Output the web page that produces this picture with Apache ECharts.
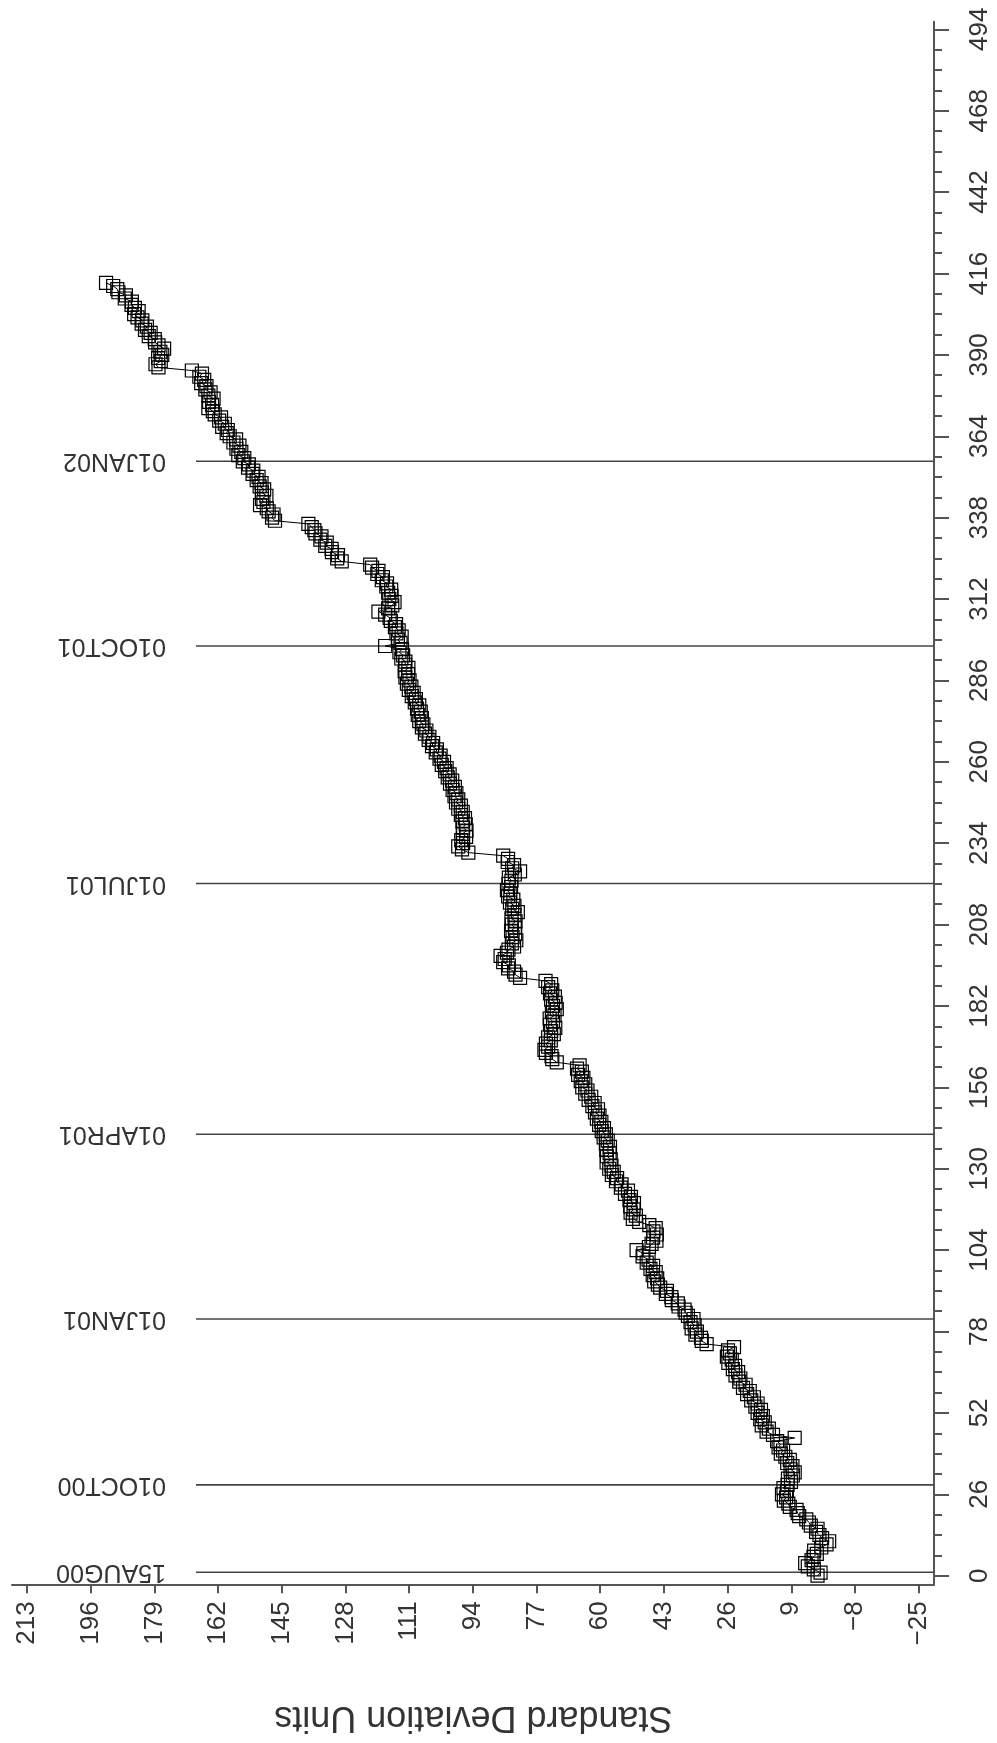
<!DOCTYPE html>
<html>
<head>
<meta charset="utf-8">
<script src="https://cdn.jsdelivr.net/npm/echarts@6/dist/echarts.min.js"></script>
<style>
html,body{margin:0;padding:0;background:#fff;}
#chart{width:997px;height:1743px;}
</style>
</head>
<body>
<div id="chart"></div>
<script>
// Standard deviation units, one value per observation (observation number = position, 0..413)
const sdUnits = [
  2.0,1.2,3.0,4.6,5.3,3.6,3.1,2.2,2.9,1.0,-0.4,-1.1,0.8,1.5,
  2.4,2.0,3.8,4.3,5.0,6.9,7.3,7.6,9.4,9.8,11.0,10.4,11.5,10.2,11.1,10.0,
  9.1,9.9,8.6,8.1,9.2,8.7,10.1,9.4,10.6,11.8,11.2,12.4,11.9,12.8,8.1,13.9,
  15.6,15.0,16.9,16.1,17.3,16.6,18.0,17.1,18.6,18.0,19.7,19.0,20.8,20.1,
  21.9,21.2,22.9,22.6,23.9,23.2,24.6,24.0,25.8,24.9,26.2,25.4,25.9,24.3,
  31.6,32.9,33.1,34.6,34.2,35.6,34.8,35.9,35.1,36.6,37.2,37.5,39.1,39.3,
  40.9,41.0,42.5,42.2,44.0,44.6,45.6,44.8,46.0,45.2,46.6,45.9,47.6,47.1,
  48.7,48.5,50.3,47.0,46.3,45.0,45.9,44.9,45.8,45.2,46.9,49.6,51.3,50.5,
  51.9,51.1,52.0,51.0,52.2,51.8,53.4,52.6,54.5,54.3,55.8,55.5,56.9,56.4,
  57.6,57.0,58.3,57.2,58.2,57.5,58.4,57.4,58.5,58.0,59.1,58.5,59.6,59.0,
  60.3,59.7,60.9,60.2,61.4,60.6,62.1,61.5,63.1,62.4,64.0,63.4,64.8,64.0,
  65.2,64.5,65.9,64.9,66.2,65.5,
  71.6,72.8,73.0,74.5,74.9,73.9,74.5,73.2,73.9,72.4,73.1,72.0,73.4,72.6,
  73.5,72.2,72.9,71.6,72.6,71.9,73.1,72.1,73.4,72.8,73.9,73.1,74.6,
  81.4,82.6,83.0,84.6,84.4,85.9,85.5,86.6,84.9,84.5,83.0,83.6,82.4,83.4,
  82.7,83.8,82.8,83.6,82.6,83.7,82.9,82.0,83.5,82.9,84.1,83.2,84.6,84.0,
  84.9,83.8,84.5,83.7,84.4,82.8,81.4,83.5,83.0,84.7,84.6,85.9,
  95.2,96.9,97.9,96.6,97.1,95.8,96.7,95.7,96.6,95.9,96.8,96.1,97.2,96.7,
  97.9,97.2,98.5,97.9,98.9,98.4,99.4,98.8,100.1,99.5,100.7,100.2,101.4,101.0,
  102.3,101.7,102.9,102.6,103.9,103.6,104.9,104.6,105.8,105.6,106.8,106.4,107.6,107.2,
  108.3,107.6,108.7,107.9,108.9,108.3,109.5,109.2,110.3,109.8,111.1,110.4,111.6,110.9,
  112.0,111.3,112.2,111.2,112.1,112.0,113.1,112.6,113.6,112.9,117.4,113.3,114.0,113.0,
  114.4,113.8,114.8,114.5,115.9,116.2,117.4,119.2,116.6,115.5,114.9,116.3,115.7,
  116.6,115.8,117.1,116.9,118.3,118.0,119.5,119.2,120.9,121.4,
  129.0,130.2,130.0,131.6,131.7,133.4,133.0,134.7,134.4,136.0,136.3,137.0,137.9,
  146.8,147.6,147.2,148.5,149.0,150.8,149.9,150.3,149.1,150.3,149.7,150.9,150.4,151.7,
  151.2,152.8,152.6,154.0,153.8,155.4,155.0,156.6,155.8,157.1,156.3,157.9,157.2,158.9,
  159.7,159.4,160.9,160.2,161.7,161.2,162.9,163.4,164.6,163.6,164.4,163.2,164.6,164.0,
  165.4,165.1,166.5,165.7,167.0,166.3,169.0,
  177.9,178.7,177.3,178.0,176.9,177.4,176.4,177.9,178.8,178.9,180.5,180.0,181.5,181.0,
  182.4,182.2,183.5,184.4,183.2,184.2,185.1,185.0,186.9,186.6,188.6,188.9,190.0,191.9
];

// Tick labels
const sdTicks = [213,196,179,162,145,128,111,94,77,60,43,26,9,-8,-25];
const obsTicks = [0,26,52,78,104,130,156,182,208,234,260,286,312,338,364,390,416,442,468,494];
const obsMinorTicks = [];
for (let k = 0; k <= 76; k++) { obsMinorTicks.push(k * 6.5); }

// Date reference lines
const refLabels = ['15AUG00','01OCT00','01JAN01','01APR01','01JUL01','01OCT01','01JAN02'];
const refObs = [1.1, 29.0, 82.0, 141.0, 221.1, 297.0, 356.0];
const refLineStartSd = 167.9;

const SD_MIN = -29.08, SD_MAX = 217.0;
const OBS_MIN = -2.75, OBS_MAX = 496.43;

const FONT = '"Liberation Sans", Arial, "DejaVu Sans", sans-serif';
const AXIS_COLOR = '#555';
const TEXT_COLOR = '#333';

const chart = echarts.init(document.getElementById('chart'), null, {renderer: 'canvas', width: 997, height: 1743});

const fmt = v => (v < 0 ? '\u2212' + Math.abs(v) : String(v));

const option = {
  animation: false,
  backgroundColor: '#fff',
  grid: {left: 12, right: 63, top: 21.7, bottom: 158.7, containLabel: false},
  xAxis: [{
    type: 'value', inverse: true, min: SD_MIN, max: SD_MAX, position: 'bottom',
    axisLine: {show: true, onZero: false, lineStyle: {color: AXIS_COLOR, width: 2}},
    axisTick: {show: true, customValues: sdTicks, length: 9, inside: false, lineStyle: {color: AXIS_COLOR, width: 2}},
    axisLabel: {show: true, customValues: sdTicks, rotate: 90, margin: 17, fontSize: 26, color: TEXT_COLOR, fontFamily: FONT, formatter: fmt},
    splitLine: {show: false}
  }],
  yAxis: [{
    type: 'value', min: OBS_MIN, max: OBS_MAX, position: 'right',
    axisLine: {show: true, onZero: false, lineStyle: {color: AXIS_COLOR, width: 2}},
    axisTick: {show: true, customValues: obsTicks, length: 15, lineStyle: {color: AXIS_COLOR, width: 2}},
    axisLabel: {show: true, customValues: obsTicks, rotate: 90, margin: 33, fontSize: 26, color: TEXT_COLOR, fontFamily: FONT},
    splitLine: {show: false}
  }, {
    type: 'value', min: OBS_MIN, max: OBS_MAX, position: 'right', offset: 0,
    axisLine: {show: false, onZero: false},
    axisTick: {show: true, customValues: obsMinorTicks, length: 8, lineStyle: {color: AXIS_COLOR, width: 2}},
    axisLabel: {show: false},
    splitLine: {show: false}
  }],
  series: [{
    type: 'custom',
    xAxisIndex: 0, yAxisIndex: 0,
    silent: true,
    clip: false,
    data: refObs.map((o, i) => [i, o]),
    renderItem: function (params, api) {
      const o = api.value(1);
      const i = api.value(0);
      const p1 = api.coord([refLineStartSd, o]);
      const p2 = api.coord([SD_MIN, o]);
      return {
        type: 'group',
        children: [{
          type: 'line',
          shape: {x1: p1[0], y1: p1[1], x2: p2[0], y2: p2[1]},
          style: {stroke: '#444', lineWidth: 1.6}
        }, {
          type: 'text',
          x: p1[0] - 30, y: p1[1],
          rotation: Math.PI,
          style: {text: refLabels[i], fontSize: 25, fontFamily: FONT, fill: TEXT_COLOR, align: 'left', verticalAlign: 'middle'}
        }]
      };
    }
  }, {
    type: 'line',
    xAxisIndex: 0, yAxisIndex: 0,
    data: sdUnits.map((v, i) => [v, i]),
    symbol: 'rect',
    symbolSize: 13,
    showAllSymbol: true,
    itemStyle: {color: 'rgba(0,0,0,0)', borderColor: '#000', borderWidth: 1.2},
    lineStyle: {color: '#000', width: 1},
    emphasis: {disabled: true}
  }],
  graphic: [{
    type: 'text',
    x: 473.4, y: 1716.7,
    rotation: Math.PI,
    style: {text: 'Standard Deviation Units', fontSize: 36, fontFamily: FONT, fill: TEXT_COLOR, align: 'center', verticalAlign: 'middle'}
  }]
};
chart.setOption(option);
</script>
</body>
</html>
